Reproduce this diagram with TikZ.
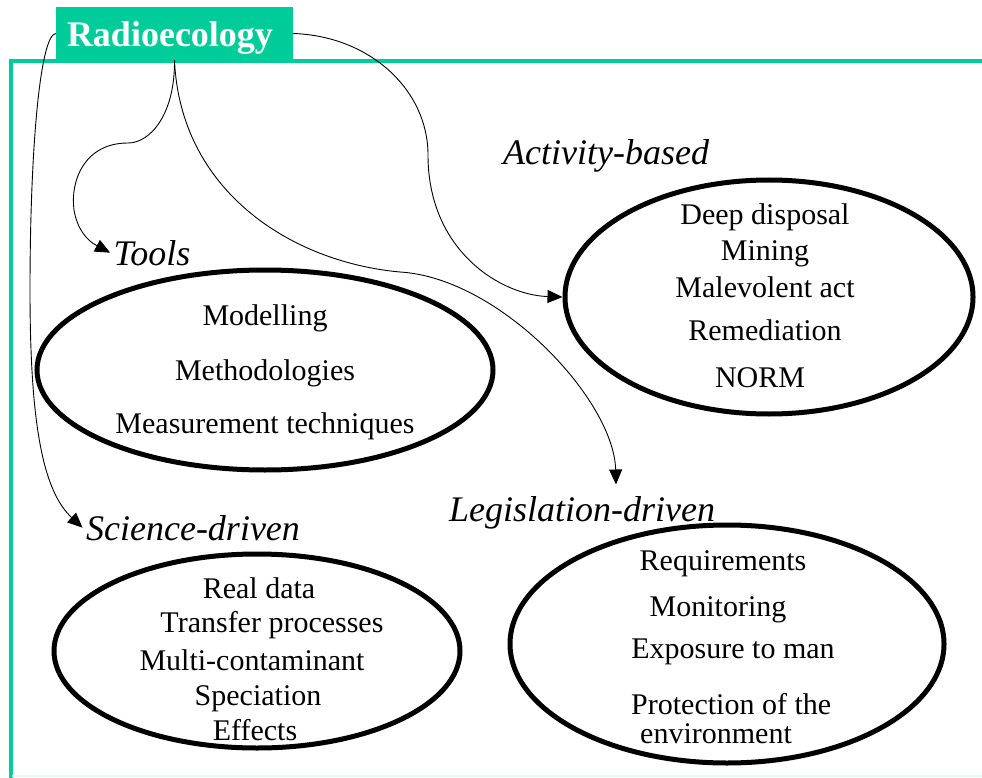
\documentclass[tikz,border=0pt]{standalone}
\usepackage{fontspec}
\setmainfont{Liberation Serif}
\usetikzlibrary{arrows.meta,shapes.geometric}
\definecolor{radiogreen}{RGB}{0,204,153}

\begin{document}
\begin{tikzpicture}[x=1pt,y=-1pt,>={Triangle[length=15pt,width=13pt]},
  bubble/.style={draw, ellipse, line width=5pt, inner sep=0pt},
  head/.style={font=\fontsize{36pt}{40pt}\selectfont\itshape, anchor=base},
  item/.style={font=\fontsize{30pt}{34pt}\selectfont, anchor=base, inner sep=0pt},
  link/.style={->, line width=0.9pt}]

  \useasboundingbox (0,0) rectangle (982,778);

%%%%%%%%%%%%%%%%%%%%%%%%%%%%%%%%%%%%%%%%%%
  % Frame
  \draw[radiogreen, line width=3.5pt] (9,61) -- (982,61);
  \draw[radiogreen, line width=4pt] (10.5,59.5) -- (10.5,778);
  \draw[radiogreen!10, line width=2pt] (12,776) -- (982,776);

  % Title
  \node[fill=radiogreen, text=white, font=\fontsize{36pt}{40pt}\selectfont\bfseries,
        minimum width=237pt, minimum height=53pt, text width=215pt, inner xsep=11pt,
        inner ysep=0pt, align=left, text height=26pt, text depth=0pt]
        (radio) at (174.5,33.5) {Radioecology};

%%%%%%%%%%%%%%%%%%%%%%%%%%%%%%%%%%%%%%%%%%
  % Headings
  \node[head] (tools) at (152,265) {Tools};
  \node[head] (activ) at (606,165) {Activity-based};
  \node[head] (sci) at (193,540) {Science-driven};
  \node[head] (legis) at (582,521) {Legislation-driven};

  % Ellipses
  \node[bubble, minimum width=456pt, minimum height=200pt] (toolsell) at (265,370) {};
  \node[bubble, minimum width=408pt, minimum height=234pt] (actell) at (769,297) {};
  \node[bubble, minimum width=406pt, minimum height=194pt] (sciell) at (257,651) {};
  \node[bubble, minimum width=434pt, minimum height=238pt] (legell) at (727,644) {};

%%%%%%%%%%%%%%%%%%%%%%%%%%%%%%%%%%%%%%%%%%
  % Tools
  \node[item] (modelling) at (265,325) {Modelling};
  \node[item] (methods) at (265,380) {Methodologies};
  \node[item] (measure) at (265,433) {Measurement techniques};

  % Activity-based
  \node[item] (disposal) at (765,224) {Deep disposal};
  \node[item] (mining) at (765,260) {Mining};
  \node[item] (malev) at (765,297) {Malevolent act};
  \node[item] (remed) at (765,340) {Remediation};
  \node[item] (norm) at (760,387) {NORM};

  % Science-driven
  \node[item] (realdata) at (259,598) {Real data};
  \node[item] (transfer) at (272,632) {Transfer processes};
  \node[item] (multi) at (252,670) {Multi-contaminant};
  \node[item] (speciation) at (258,705) {Speciation};
  \node[item] (effects) at (255,740) {Effects};

  % Legislation-driven
  \node[item] (require) at (723,570) {Requirements};
  \node[item] (monitor) at (718,616) {Monitoring};
  \node[item] (exposure) at (733,658) {Exposure to man};
  \node[item, anchor=base west] (protect) at (631,714) {Protection of the};
  \node[item, anchor=base west] (environ) at (640,743) {environment};

%%%%%%%%%%%%%%%%%%%%%%%%%%%%%%%%%%%%%%%%%%
  % Links
  \draw[link] (radio.west) .. controls (40,35) and (30,150) .. (30,290)
    .. controls (30,420) and (42,490) .. (sci.west);
  \draw[link] (radio.south) .. controls (175,115) and (150,143) .. (128,143)
    .. controls (85,143) and (70,180) .. (74,210)
    .. controls (77,228) and (86,240) .. (tools.west);
  \draw[link] (radio.south) .. controls (180,190) and (290,262) .. (400,272)
    .. controls (500,278) and (614,400) .. ([xshift=34pt,yshift=8pt]legis.north);
  \draw[link] (radio.east) .. controls (370,36) and (428,90) .. (428,155)
    .. controls (428,250) and (500,295) .. (actell.west);

\end{tikzpicture}
\end{document}
